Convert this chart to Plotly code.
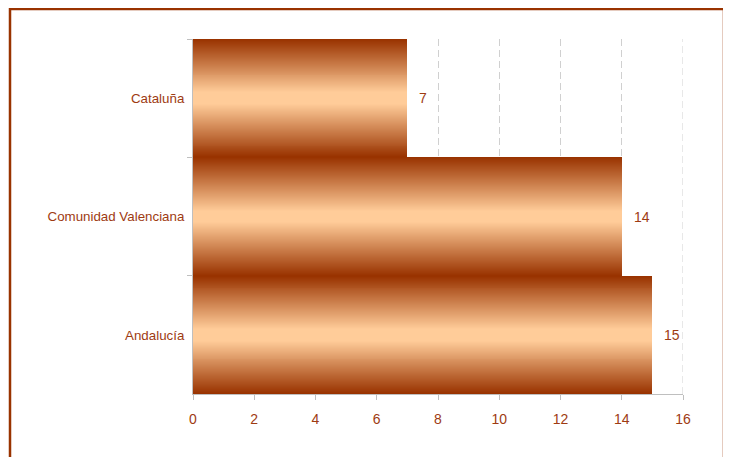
import plotly.graph_objects as go

categories = ["Cataluña", "Comunidad Valenciana", "Andalucía"]
values = [7, 14, 15]
x_ticks = [0, 2, 4, 6, 8, 10, 12, 14, 16]

DARK = (153, 51, 0)
LIGHT = (255, 204, 153)
N = 60

def mix(t):
    return "rgb(%d,%d,%d)" % tuple(round(DARK[i] + (LIGHT[i] - DARK[i]) * t) for i in range(3))

fig = go.Figure()
for k in range(N):
    t = k / (N - 1)
    w = 1 - k / N
    fig.add_trace(go.Bar(
        x=values, y=categories, orientation="h", width=w,
        marker=dict(color=mix(min(1.0, t * 1.1)), line=dict(width=0)),
        showlegend=False, hoverinfo="skip",
    ))

TXT = "#9E3B12"
GRID = "#D0D0D0"
for c, v in zip(categories, values):
    fig.add_annotation(x=v, y=c, text=str(v), showarrow=False, xanchor="left",
                       xshift=10, font=dict(size=14, color=TXT))

# gridline at the last tick (plotly hides the one at the plot edge)
fig.add_shape(type="line", xref="x", yref="paper", x0=x_ticks[-1], x1=x_ticks[-1],
              y0=0, y1=1, line=dict(color=GRID, width=1, dash="7px,4px"), layer="below")

# page has 8px body margin: figure origin is at (8, 8)
fig.add_shape(type="rect", xref="paper", yref="paper",
              x0=(10 - 193) / 490, x1=(724 - 193) / 490,
              y0=-(480 - 394) / 355, y1=1 + 30 / 355,
              line=dict(color="#993300", width=2.5), layer="above")

fig.update_layout(
    width=723, height=449,
    margin=dict(l=185, r=48, t=31, b=63),
    barmode="overlay", bargap=0,
    paper_bgcolor="white", plot_bgcolor="white",
    font=dict(family="Liberation Sans, Arial, sans-serif", color=TXT),
    xaxis=dict(range=[0, 16], tickvals=x_ticks, showgrid=True, gridcolor=GRID,
               griddash="7px,4px", gridwidth=1, zeroline=False,
               showline=True, linecolor="#BFBFBF", linewidth=1,
               ticks="outside", ticklen=5, tickcolor="#BFBFBF",
               tickfont=dict(size=14, color=TXT), ticklabelstandoff=7),
    yaxis=dict(autorange=False, range=[2.5, -0.5], type="category",
               showgrid=False, zeroline=False, showline=True, linecolor="#BFBFBF",
               linewidth=1, ticks="outside", ticklen=5, tickcolor="#BFBFBF",
               tickson="boundaries", tickfont=dict(size=13.33, color=TXT),
               ticklabelstandoff=5),
)

fig.write_html("out.html")
